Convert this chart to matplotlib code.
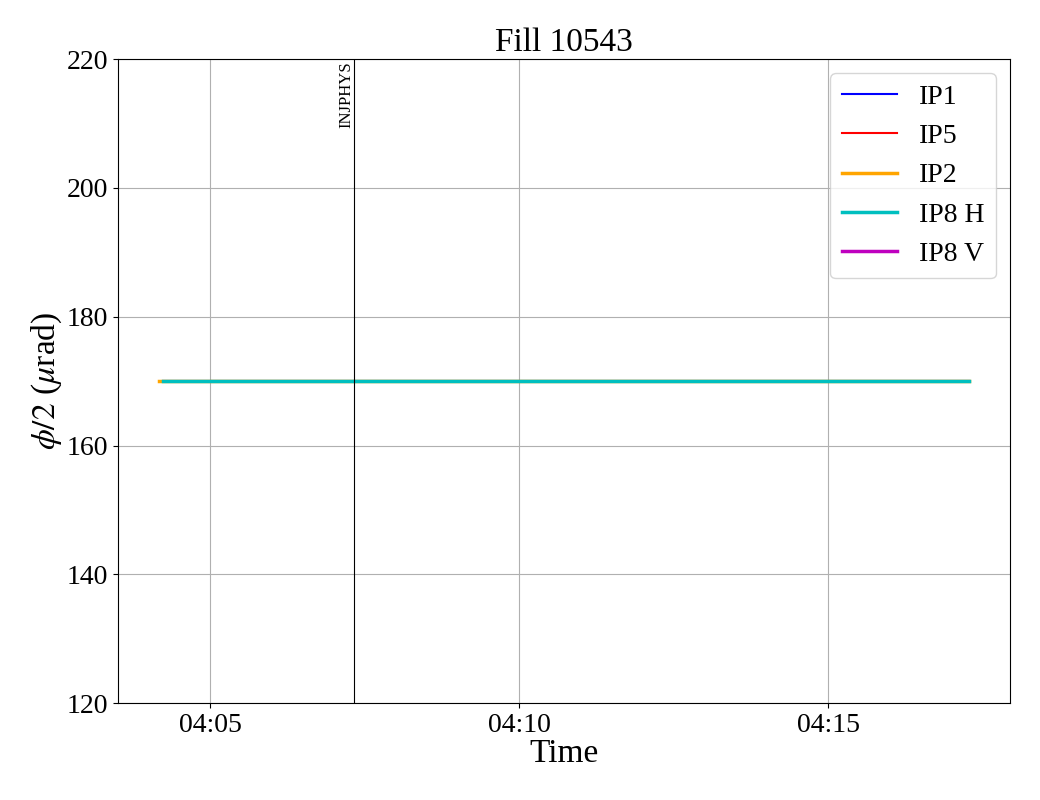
import matplotlib
matplotlib.use('Agg')
import matplotlib.pyplot as plt
import matplotlib.dates as mdates
import numpy as np
from datetime import datetime

plt.rcParams['font.family'] = 'Liberation Serif'
plt.rcParams['mathtext.fontset'] = 'stix'

# Data: half crossing angle per IP (urad)
t_ip2 = [datetime(2025, 5, 10, 4, 4, 10), datetime(2025, 5, 10, 4, 17, 17)]
t_main = [datetime(2025, 5, 10, 4, 4, 14), datetime(2025, 5, 10, 4, 17, 17)]
ip1 = [170, 170]
ip5 = [170, 170]
ip2 = [170, 170]
ip8h = [170, 170]
ip8v = []
mode_times = [datetime(2025, 5, 10, 4, 7, 20)]
mode_names = ['INJPHYS']

fig, ax = plt.subplots(figsize=(10.4, 8), dpi=100)
plt.subplots_adjust(left=0.1135, right=0.971, top=0.926, bottom=0.121)

ax.plot(t_main, ip1, color='b', lw=1.5, label='IP1')
ax.plot(t_main, ip5, color='r', lw=1.5, label='IP5')
ax.plot(t_ip2, ip2, color='orange', lw=2.5, label='IP2')
ax.plot(t_main, ip8h, color='c', lw=2.5, label='IP8 H')
ax.plot(ip8v, ip8v, color='m', lw=2.5, label='IP8 V')

for t, name in zip(mode_times, mode_names):
    ax.axvline(t, color='k', lw=0.8)
    ax.text(t, 219.7, name, rotation=90, ha='right', va='top', fontsize=12)

ax.set_ylim(120, 220)
ax.xaxis.set_major_locator(mdates.MinuteLocator(byminute=range(0, 60, 5)))
ax.xaxis.set_major_formatter(mdates.DateFormatter('%H:%M'))
ax.tick_params(labelsize=20)
ax.set_xlabel('Time', fontsize=24, labelpad=0.5)
ax.set_ylabel(r'$\phi/2$ ($\mu$rad)', fontsize=24, labelpad=2)
ax.set_title('Fill 10543', fontsize=24)
ax.grid(True)
ax.legend(fontsize=20, loc='upper right')

plt.savefig('out.png', dpi=100)
